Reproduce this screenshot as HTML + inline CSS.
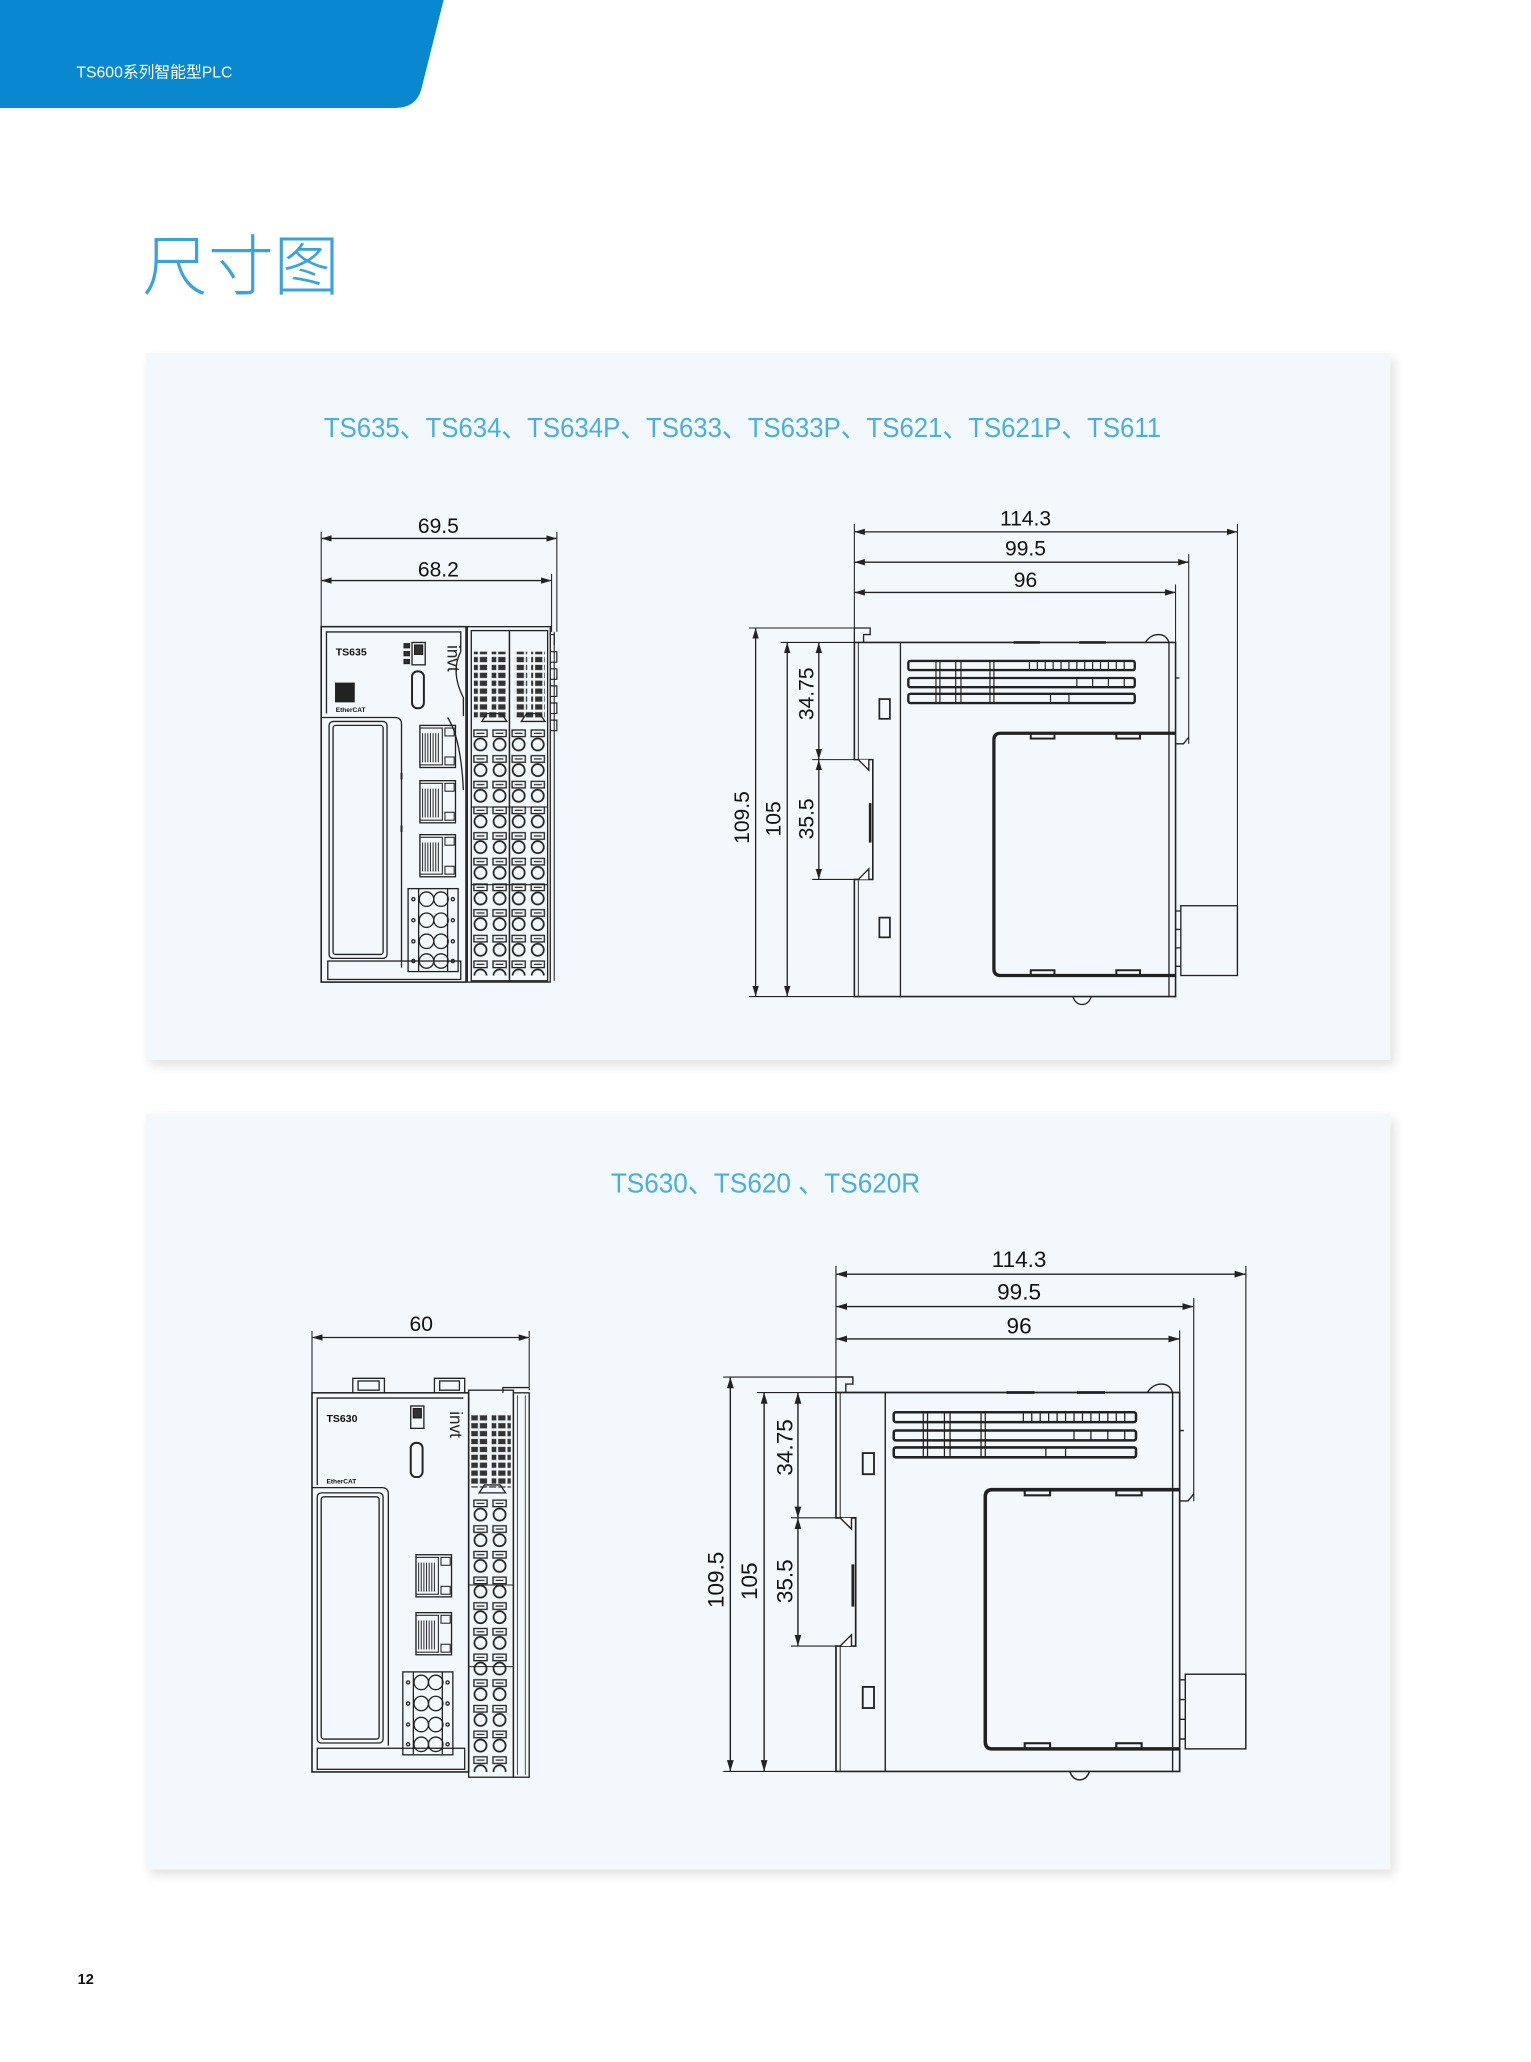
<!DOCTYPE html>
<html><head><meta charset="utf-8"><style>
html,body{margin:0;padding:0;background:#fff;}
svg{display:block;}
text{font-family:"Liberation Sans","Noto Sans CJK SC",sans-serif;}
</style></head><body>
<svg width="1531" height="2062" viewBox="0 0 1163 1566.3" xmlns="http://www.w3.org/2000/svg">
<defs>
<filter id="sh" x="-5%" y="-5%" width="115%" height="115%"><feDropShadow dx="3" dy="4" stdDeviation="4" flood-color="#000" flood-opacity="0.12"/></filter>
<marker id="a" viewBox="0 0 10 6" refX="10" refY="3" markerWidth="8" markerHeight="5" orient="auto-start-reverse"><path d="M0,0 L10,3 L0,6 Z" fill="#222"/></marker>
<pattern id="term" x="358" y="553" width="14.5" height="19.5" patternUnits="userSpaceOnUse">
<rect x="2" y="1.5" width="10" height="5" fill="none" stroke="#222" stroke-width="1"/>
<line x1="4" y1="4" x2="10" y2="4" stroke="#222" stroke-width="0.9"/>
<circle cx="7" cy="12.5" r="4.6" fill="none" stroke="#222" stroke-width="1.3"/>
</pattern>
<pattern id="led" x="0" y="0" width="7" height="6" patternUnits="userSpaceOnUse">
<rect x="0.5" y="1" width="5.5" height="4" fill="#333"/>
</pattern>
<g id="rj">
<rect x="0" y="0" width="27" height="32" fill="none" stroke="#222" stroke-width="1"/>
<rect x="0" y="2" width="17" height="28" fill="none" stroke="#222" stroke-width="0.8"/>
<path d="M2,6 V28 M4,6 V28 M6,6 V28 M8,6 V28 M10,6 V28 M12,6 V28 M14,6 V28" stroke="#333" stroke-width="0.8"/>
<rect x="19" y="2" width="7" height="6" fill="none" stroke="#222" stroke-width="0.8"/>
<rect x="19" y="24" width="7" height="6" fill="none" stroke="#222" stroke-width="0.8"/>
</g>
<g id="tb">
<rect x="0" y="0" width="38" height="63" fill="none" stroke="#222" stroke-width="1"/>
<line x1="8" y1="0" x2="8" y2="63" stroke="#222"/><line x1="30" y1="0" x2="30" y2="63" stroke="#222"/>
<g fill="none" stroke="#222" stroke-width="1">
<circle cx="14" cy="8" r="5.5"/><circle cx="25" cy="8" r="5.5"/>
<circle cx="14" cy="24" r="5.5"/><circle cx="25" cy="24" r="5.5"/>
<circle cx="14" cy="40" r="5.5"/><circle cx="25" cy="40" r="5.5"/>
<circle cx="14" cy="55" r="5.5"/><circle cx="25" cy="55" r="5.5"/>
<circle cx="4" cy="8" r="1.2"/><circle cx="34" cy="8" r="1.2"/><circle cx="4" cy="24" r="1.2"/><circle cx="34" cy="24" r="1.2"/>
<circle cx="4" cy="40" r="1.2"/><circle cx="34" cy="40" r="1.2"/><circle cx="4" cy="55" r="1.2"/><circle cx="34" cy="55" r="1.2"/>
</g>
</g>
<g id="side" fill="none" stroke="#222" stroke-width="1">
<path d="M649,398 V477 M940,398 V741 M903,421 V565 M893,444 V488" stroke-width="0.8"/>
<line x1="649" y1="404" x2="940" y2="404" marker-start="url(#a)" marker-end="url(#a)"/>
<line x1="649" y1="427" x2="903" y2="427" marker-start="url(#a)" marker-end="url(#a)"/>
<line x1="649" y1="450" x2="893" y2="450" marker-start="url(#a)" marker-end="url(#a)"/>
<path d="M569,477 H649 M593,488 H649 M617,577 H649 M617,668 H649 M569,757 H649" stroke-width="0.8"/>
<line x1="574" y1="477" x2="574" y2="757" marker-start="url(#a)" marker-end="url(#a)"/>
<line x1="598" y1="488" x2="598" y2="757" marker-start="url(#a)" marker-end="url(#a)"/>
<line x1="622" y1="488" x2="622" y2="577" marker-start="url(#a)" marker-end="url(#a)"/>
<line x1="622" y1="577" x2="622" y2="668" marker-start="url(#a)" marker-end="url(#a)"/>
<path d="M649,488 V477 H661 V482 H656 V488" />
<path d="M649,488 V577 H663 V668 H649 V757 H893 V488 Z" stroke-width="1.2"/>
<path d="M652,488 V577 M652,668 V757" stroke-width="0.7"/>
<path d="M652,577 L660,585 L660,577 M652,668 L660,660 L660,668" fill="#fff"/>
<path d="M661,610 V640" stroke-width="2"/>
<line x1="684" y1="488" x2="684" y2="757"/>
<line x1="888" y1="488" x2="888" y2="757"/>
<rect x="690" y="502" width="172" height="7" rx="1.5" stroke-width="1.8"/>
<rect x="690" y="515" width="172" height="7" rx="1.5" stroke-width="1.8"/>
<rect x="690" y="527" width="172" height="7" rx="1.5" stroke-width="1.8"/>
<path d="M711,502 V534 M714,502 V534 M726,502 V534 M730,502 V534 M752,502 V534 M755,502 V534 M782,502 V509 M788,502 V509 M794,502 V509 M800,502 V509 M806,502 V509 M812,502 V509 M818,502 V509 M824,502 V509 M830,502 V509 M836,502 V509 M842,502 V509 M848,502 V509 M854,502 V509 M818,515 V522 M830,515 V522 M842,515 V522 M854,515 V522 M798,527 V534 M812,527 V534" stroke-width="0.9"/>
<rect x="668" y="531" width="8" height="15" stroke-width="1.3"/>
<rect x="668" y="697" width="8" height="15" stroke-width="1.3"/>
<path d="M893,557 H760 Q755,557 755,562 V736 Q755,741 760,741 H893" stroke-width="2.5"/>
<rect x="783" y="557" width="18" height="4" stroke-width="1.5"/>
<rect x="848" y="557" width="18" height="4" stroke-width="1.5"/>
<rect x="783" y="737" width="18" height="4" stroke-width="1.5"/>
<rect x="848" y="737" width="18" height="4" stroke-width="1.5"/>
<path d="M893,565 H899 L903,560" />
<path d="M893,515 H896" />
<rect x="897" y="688" width="43" height="53"/>
<path d="M893,692 H897 M893,706 H897 M893,720 H897 M893,734 H897"/>
<path d="M815,757 Q817,763 822,763 Q827,763 829,757"/>
<path d="M870,488 Q874,482 880,482 Q886,482 888,488"/>
<path d="M770,488 H790 M820,488 H840" stroke-width="2"/>
</g>
<g id="sidetxt" font-size="16" fill="#111" text-anchor="middle">
<text x="779" y="399">114.3</text>
<text x="779" y="422">99.5</text>
<text x="779" y="446">96</text>
<text transform="translate(569,621) rotate(-90)">109.5</text>
<text transform="translate(593,622) rotate(-90)">105</text>
<text transform="translate(618,527) rotate(-90)">34.75</text>
<text transform="translate(618,622) rotate(-90)">35.5</text>
</g>
</defs>

<rect width="1163" height="1566.3" fill="#fff"/>
<path d="M0,0 H337 L320,68 Q316,82 300,82 H0 Z" fill="#0a88cf"/>
<text x="58" y="59" font-size="12" fill="#fff">TS600系列智能型PLC</text>
<text x="108" y="220" font-size="50" fill="#3aa3dc" font-weight="300" style='font-family:"Noto Sans CJK SC",sans-serif'>尺寸图</text>

<rect x="111" y="268" width="945" height="537" fill="#f3f8fc" filter="url(#sh)"/>
<rect x="111" y="846" width="945" height="574" fill="#f3f8fc" filter="url(#sh)"/>
<text x="246" y="332" font-size="21" fill="#4aaee0" textLength="636" lengthAdjust="spacingAndGlyphs">TS635、TS634、TS634P、TS633、TS633P、TS621、TS621P、TS611</text>
<text x="464" y="906" font-size="21" fill="#4aaee0" textLength="235" lengthAdjust="spacingAndGlyphs">TS630、TS620 、TS620R</text>

<use href="#side"/><use href="#sidetxt"/>
<g transform="translate(-59.4,535.6) scale(1.07)"><use href="#side"/><use href="#sidetxt"/></g>

<g fill="none" stroke="#222" stroke-width="1">
<path d="M244,404 V476 M423,404 V480 M419,436 V480" stroke-width="0.8"/>
<line x1="244" y1="409" x2="423" y2="409" marker-start="url(#a)" marker-end="url(#a)"/>
<line x1="244" y1="441" x2="419" y2="441" marker-start="url(#a)" marker-end="url(#a)"/>
<rect x="244" y="476" width="110" height="270" stroke-width="1.2"/>
<path d="M248,542 V480 H350 V495 Q342,510 352,530 V544" />
<path d="M244,545 H300 Q305,545 305,550 V735 M340,545 Q350,560 352,600"/>
<rect x="250" y="548" width="44" height="180" rx="3"/>
<rect x="253" y="551" width="38" height="174" rx="2"/>
<rect x="249" y="730" width="101" height="14"/>
<rect x="313" y="488" width="10" height="17"/>
<rect x="315" y="490" width="6" height="7" fill="#333"/>
<rect x="313" y="510" width="9" height="28" rx="4" stroke-width="1.5"/>
<rect x="255" y="519" width="14" height="14" fill="#222"/>
<rect x="307" y="489" width="4" height="3" fill="#333"/><rect x="307" y="495" width="4" height="3" fill="#333"/><rect x="307" y="501" width="4" height="3" fill="#333"/>
<use href="#rj" x="319" y="551"/><use href="#rj" x="319" y="593"/><use href="#rj" x="319" y="634"/>
<use href="#tb" x="310" y="675"/>
<path d="M305,587 V592 M305,627 V632" stroke-width="1.5"/>
<rect x="355" y="476" width="63" height="270"/>
<rect x="358" y="479" width="29" height="266"/>
<rect x="387" y="479" width="29" height="266"/>
<rect x="360" y="495" width="25" height="50" fill="url(#led)" stroke="none"/>
<rect x="391" y="495" width="23" height="50" fill="url(#led)" stroke="none"/>
<path d="M372,493 V540 M402,493 V540" stroke="#f3f8fc" stroke-width="3"/>
<path d="M366,548 L370,542 H381 L385,548 Z M396,548 L400,542 H410 L414,548 Z"/>
<rect x="358" y="553" width="58" height="188" fill="url(#term)" stroke="none"/>
<path d="M358,613 H416 M358,672 H416" stroke-width="0.8"/>
<path d="M418,482 H421 V490 M418,495 H423 V503 H418 M418,508 H423 V516 H418 M418,521 H423 V529 H418 M418,534 H423 V542 H418 M418,547 H423 V555 H418" stroke-width="0.9"/>
<path d="M421,480 V745" stroke-width="0.8"/>
</g>
<g font-size="16" fill="#111" text-anchor="middle">
<text x="333" y="405">69.5</text>
<text x="333" y="438">68.2</text>
</g>
<text x="255" y="498" font-size="8" font-weight="bold" fill="#111">TS635</text>
<text x="255" y="541" font-size="5" font-weight="bold" fill="#111">EtherCAT</text>
<text transform="translate(340,490) rotate(90)" font-size="13" fill="#222">invt</text>

<g fill="none" stroke="#222" stroke-width="1">
<path d="M237,1011 V1058 M402,1011 V1056" stroke-width="0.8"/>
<line x1="237" y1="1016" x2="402" y2="1016" marker-start="url(#a)" marker-end="url(#a)"/>
<path d="M268,1058 V1047 H292 V1058 M330,1058 V1047 H353 V1058"/>
<rect x="272" y="1049" width="16" height="7"/><rect x="334" y="1049" width="15" height="7"/>
<rect x="237" y="1058" width="119" height="288" stroke-width="1.2"/>
<path d="M241,1128 V1062 H352"/>
<path d="M237,1130 H290 Q295,1130 295,1135 V1326"/>
<rect x="241" y="1134" width="50" height="190" rx="3"/>
<rect x="244" y="1137" width="44" height="184" rx="2"/>
<rect x="241" y="1328" width="112" height="16"/>
<rect x="312" y="1068" width="10" height="17"/>
<rect x="314" y="1070" width="6" height="7" fill="#333"/>
<rect x="312" y="1096" width="9" height="26" rx="4" stroke-width="1.5"/>
<use href="#rj" x="316" y="1181"/>
<use href="#rj" x="316" y="1225"/>
<use href="#tb" x="306" y="1270"/>
<rect x="356" y="1056" width="34" height="294"/>
<rect x="358" y="1075" width="30" height="55" fill="url(#led)" stroke="none"/>
<path d="M372,1072 V1128" stroke="#f3f8fc" stroke-width="3"/>
<path d="M364,1134 L368,1128 H380 L384,1134 Z"/>
<rect x="358" y="1138" width="30" height="208" fill="url(#term)" stroke="none"/>
<path d="M356,1204 H390 M356,1266 H390" stroke-width="0.8"/>
<rect x="390" y="1058" width="12" height="292"/>
<path d="M393,1060 V1348 M399,1060 V1348" stroke-width="0.6"/>
<path d="M382,1058 V1054 H402" />
</g>
<text x="320" y="1011" font-size="16" fill="#111" text-anchor="middle">60</text>
<text x="248" y="1080" font-size="8" font-weight="bold" fill="#111">TS630</text>
<text x="248" y="1127" font-size="5" font-weight="bold" fill="#111">EtherCAT</text>
<text transform="translate(342,1072) rotate(90)" font-size="13" fill="#222">invt</text>

<text x="59" y="1507" font-size="11" font-weight="bold" fill="#111">12</text>
</svg>
</body></html>
